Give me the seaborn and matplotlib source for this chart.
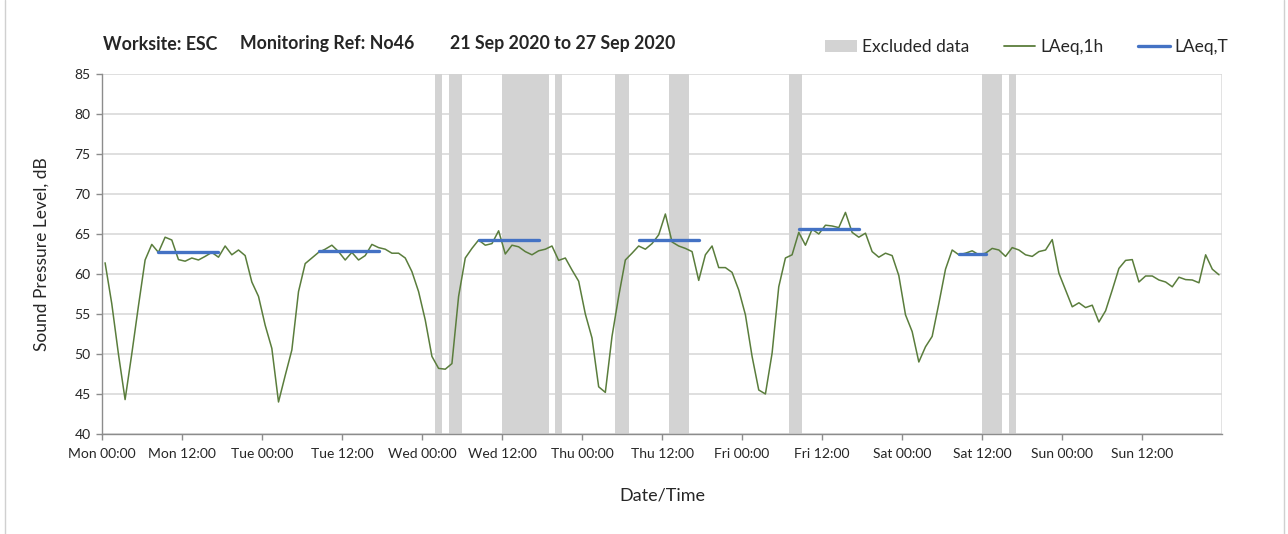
import matplotlib
matplotlib.use("Agg")
import matplotlib.pyplot as plt
from matplotlib.patches import Patch
from matplotlib.lines import Line2D
import seaborn as sns
import pandas as pd
import numpy as np

# hourly LAeq,1h values, Mon 00:00 .. Sun 23:00 (21-27 Sep 2020)
laeq_1h = [
    # Mon
    61.4, 56.3, 50.0, 44.3, 50.0, 56.0, 61.75, 63.7, 62.7, 64.6, 64.25, 61.8,
    61.6, 62.0, 61.75, 62.2, 62.7, 62.1, 63.5, 62.4, 63.0, 62.3, 59.0, 57.2,
    # Tue
    53.6, 50.7, 44.0, 47.3, 50.5, 57.8, 61.3, 62.0, 62.7, 63.1, 63.6, 62.8,
    61.75, 62.7, 61.75, 62.3, 63.7, 63.3, 63.1, 62.6, 62.6, 62.0, 60.3, 57.8,
    # Wed
    54.25, 49.7, 48.2, 48.1, 48.8, 57.2, 62.0, 63.2, 64.25, 63.6, 63.8, 65.4,
    62.5, 63.6, 63.4, 62.8, 62.4, 62.9, 63.1, 63.5, 61.7, 62.0, 60.5, 59.1,
    # Thu
    55.0, 52.0, 45.9, 45.2, 52.2, 57.2, 61.75, 62.6, 63.5, 63.1, 63.8, 64.9,
    67.5, 64.0, 63.5, 63.2, 62.8, 59.2, 62.4, 63.5, 60.8, 60.8, 60.2, 58.0,
    # Fri
    54.9, 49.7, 45.5, 45.0, 50.1, 58.4, 62.0, 62.4, 65.2, 63.6, 65.6, 65.0,
    66.1, 66.0, 65.8, 67.7, 65.2, 64.6, 65.1, 62.8, 62.1, 62.6, 62.3, 59.8,
    # Sat
    54.9, 52.8, 49.0, 50.9, 52.2, 56.3, 60.6, 63.0, 62.4, 62.6, 62.9, 62.4,
    62.6, 63.2, 63.0, 62.2, 63.3, 63.0, 62.4, 62.2, 62.8, 63.0, 64.3, 60.1,
    # Sun
    58.0, 55.9, 56.4, 55.8, 56.1, 54.0, 55.4, 58.0, 60.7, 61.7, 61.8, 59.0,
    59.75, 59.75, 59.25, 59.0, 58.4, 59.6, 59.3, 59.25, 58.9, 62.4, 60.6, 59.9,
]

# LAeq,T periods (first hour, last hour, level)
period_first = [8, 32, 56, 80, 104, 128]
period_last = [17, 41, 65, 89, 113, 132]
period_level = [62.7, 62.9, 64.3, 64.2, 65.6, 62.5]

# excluded data (hours from Mon 00:00)
excl_start = [50, 52, 60, 68, 77, 85, 103, 132, 136]
excl_end = [51, 54, 67, 69, 79, 88, 105, 135, 137]

days = ['Mon', 'Tue', 'Wed', 'Thu', 'Fri', 'Sat', 'Sun']
tick_labels = [f'{d} {h}' for d in days for h in ('00:00', '12:00')]
y_ticks = [40, 45, 50, 55, 60, 65, 70, 75, 80, 85]

GREEN = '#5a7d3c'
BLUE = '#4472c4'
GREY = '#d3d3d3'

sns.set_theme(style='white')
plt.rcParams['font.family'] = ['Lato', 'DejaVu Sans']

df = pd.DataFrame({'t': np.arange(len(laeq_1h)) + 0.5, 'LAeq,1h': laeq_1h})

rows = []
for k, (a, b, lv) in enumerate(zip(period_first, period_last, period_level)):
    for h in range(a, b + 1):
        rows.append({'t': h + 0.5, 'level': lv, 'period': k})
df_t = pd.DataFrame(rows)

fig = plt.figure(figsize=(12.88, 5.34), dpi=100)
ax = fig.add_axes([0.079, 0.1873, 0.870, 0.6741])

for a, b in zip(excl_start, excl_end):
    ax.axvspan(a, b, color=GREY, lw=0, zorder=1)

sns.lineplot(data=df, x='t', y='LAeq,1h', color=GREEN, lw=1.1, ax=ax, zorder=3)
sns.lineplot(data=df_t, x='t', y='level', units='period', estimator=None,
             color=BLUE, lw=2.4, ax=ax, zorder=4)

ax.set_xlim(0, 168)
ax.set_ylim(40, 85)
ax.set_yticks(y_ticks)
ax.set_yticklabels([str(v) for v in y_ticks], fontsize=10)
ax.set_xticks(np.arange(0, 168, 12))
ax.set_xticklabels(tick_labels, fontsize=10)
ax.set_xticks(np.arange(0, 169, 24), minor=True)
ax.grid(False)
ax.yaxis.grid(True, color='#d9d9d9', lw=1.2, zorder=0)
ax.xaxis.grid(True, which='minor', color='#dedede', lw=1.2, zorder=0)
ax.set_axisbelow(True)
ax.tick_params(axis='x', which='major', direction='out', length=4, width=1,
               color='#8c8c8c', pad=6, bottom=True)
ax.tick_params(axis='x', which='minor', length=0)
ax.tick_params(axis='y', direction='out', length=4, width=1,
               color='#8c8c8c', pad=4, left=True)
for s in ['top', 'right']:
    ax.spines[s].set_visible(False)
for s in ['left', 'bottom']:
    ax.spines[s].set_color('#8c8c8c')
    ax.spines[s].set_linewidth(1)

ax.set_xlabel('Date/Time', fontsize=13, labelpad=20)
ax.set_ylabel('Sound Pressure Level, dB', fontsize=12.5, labelpad=18)

for x0, txt in [(103, 'Worksite: ESC'), (240, 'Monitoring Ref: No46'),
                (450, '21 Sep 2020 to 27 Sep 2020')]:
    fig.text(x0 / 1288, 1 - 44 / 534, txt, fontsize=12.8,
             fontweight='bold', va='center', ha='left')

handles = [Patch(facecolor=GREY, edgecolor='none'),
           Line2D([0], [0], color=GREEN, lw=1.3),
           Line2D([0], [0], color=BLUE, lw=2.4)]
fig.legend(handles, ['Excluded data', 'LAeq,1h', 'LAeq,T'], ncol=3,
           loc='center', bbox_to_anchor=(1027 / 1288, 1 - 47 / 534),
           frameon=False, fontsize=12.5, handlelength=1.8, handletextpad=0.3,
           columnspacing=2.0)

# outer chart frame
fig.add_artist(Line2D([5 / 1288, 5 / 1288], [0, 1], color='#d0d0d0', lw=1,
                      transform=fig.transFigure))
fig.add_artist(Line2D([1284 / 1288, 1284 / 1288], [0, 1], color='#d0d0d0', lw=1,
                      transform=fig.transFigure))

fig.savefig('out.png', dpi=100)
